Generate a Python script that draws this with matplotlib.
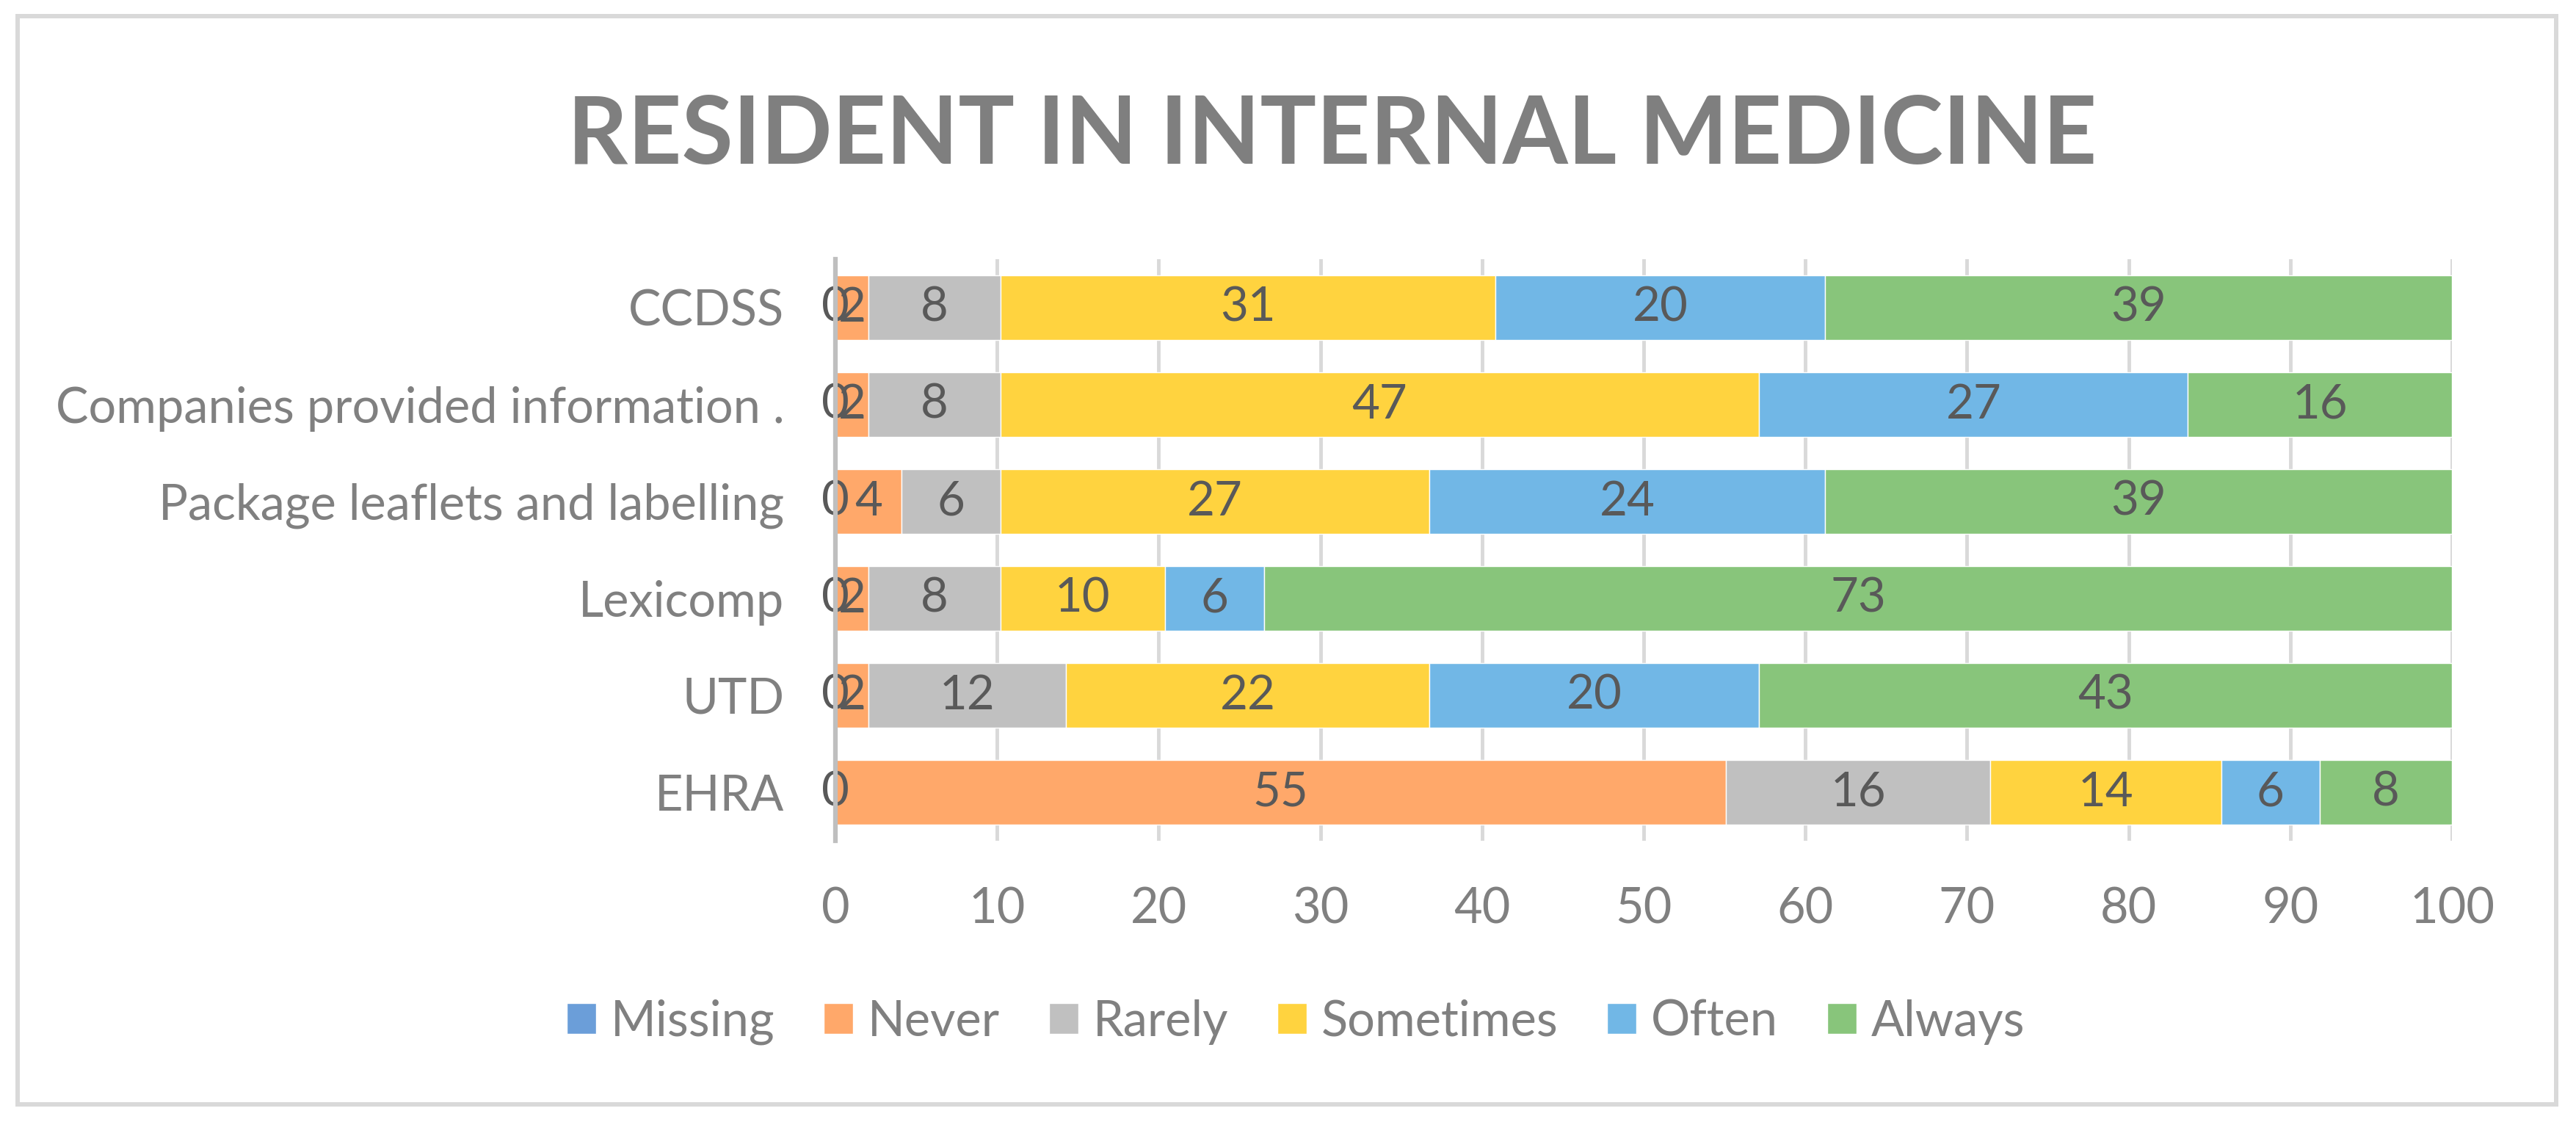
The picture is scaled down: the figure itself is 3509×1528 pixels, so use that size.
import numpy as np
import matplotlib
matplotlib.use("Agg")
import matplotlib.pyplot as plt
from matplotlib.patches import Rectangle

plt.rcParams['font.family'] = ['Lato', 'DejaVu Sans']

# percentages per source, bottom row first (as drawn)
categories = ["EHRA", "UTD", "Lexicomp", "Package leaflets and labelling",
              "Companies provided information .", "CCDSS"]
series_names = ["Missing", "Never", "Rarely", "Sometimes", "Often", "Always"]
missing   = [0, 0, 0, 0, 0, 0]
never     = [55.10, 2.04, 2.04, 4.08, 2.04, 2.04]
rarely    = [16.33, 12.24, 8.16, 6.12, 8.16, 8.16]
sometimes = [14.29, 22.45, 10.20, 26.53, 46.94, 30.61]
often     = [6.12, 20.41, 6.12, 24.49, 26.53, 20.41]
always    = [8.16, 42.86, 73.47, 38.78, 16.33, 38.78]
xticks = [0, 10, 20, 30, 40, 50, 60, 70, 80, 90, 100]

colors = ["#6B9ED9", "#FFA86A", "#C0C0C0", "#FFD33F", "#71B7E6", "#88C57B"]

W, H = 3509, 1528
fig = plt.figure(figsize=(W/100, H/100), dpi=100)
ax = fig.add_axes([1138/W, 1 - 1145/H, (3340-1138)/W, (1145-353)/H])

y = np.arange(len(categories))
left = np.zeros(len(categories))
for name, vals, col in zip(series_names, [missing, never, rarely, sometimes, often, always], colors):
    bars = ax.barh(y, vals, left=left, height=0.67, color=col, edgecolor='white',
                   linewidth=1.0, label=name, zorder=3)
    ax.bar_label(bars, labels=["%.0f" % v for v in vals], label_type='center',
                 color='#595959', fontsize=47, zorder=4)
    left += np.array(vals)

ax.set_xlim(0, 100)
ax.set_ylim(-0.5, len(categories) - 0.5)
ax.set_xticks(xticks)
ax.set_yticks(y)
ax.set_yticklabels(categories)
ax.tick_params(axis='x', length=0, pad=45, labelsize=48, labelcolor='#808080')
ax.tick_params(axis='y', length=0, pad=50, labelsize=48, labelcolor='#808080')
ax.grid(axis='x', color='#D9D9D9', linewidth=3.5, zorder=0)
for s in ['top', 'right', 'bottom']:
    ax.spines[s].set_visible(False)
ax.spines['left'].set_color('#BFBFBF')
ax.spines['left'].set_linewidth(4.5)
ax.spines['left'].set_zorder(5)

fig.text(0.517, 1 - 187/H, "RESIDENT IN INTERNAL MEDICINE", ha='center', va='center',
         fontsize=92, fontweight='bold', color='#7F7F7F')

fig.legend(loc='center', bbox_to_anchor=(0.503, 1 - 1392/H), ncol=6, frameon=False,
           fontsize=48, handlelength=0.6, handleheight=0.6, handletextpad=0.3,
           columnspacing=1.0, labelcolor='#808080')

# chart border
fig.patches.append(Rectangle((24/W, 24/H), (3482-24)/W, (1506-24)/H, transform=fig.transFigure,
                             fill=False, edgecolor='#D9D9D9', linewidth=4.3))

fig.savefig("out.png", dpi=100)
